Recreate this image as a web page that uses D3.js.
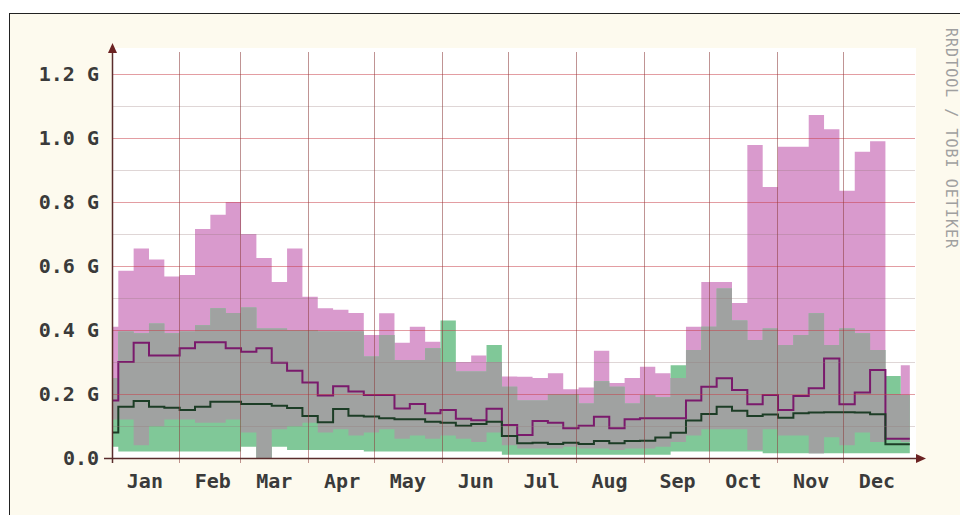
<!DOCTYPE html>
<html>
<head>
<meta charset="utf-8">
<script src="https://d3js.org/d3.v7.min.js"></script>
<style>
  body { margin: 0; background: #fff; }
  text { font-family: "DejaVu Sans Mono", monospace; }
</style>
</head>
<body>
<div id="chart"></div>
<script>
// weekly consolidated values, in G
const firstWeek = new Date(2010, 11, 28, 9);
const lastUpdate = new Date(2011, 11, 31, 12);
const months = ["Jan","Feb","Mar","Apr","May","Jun","Jul","Aug","Sep","Oct","Nov","Dec"];
const yTicks = [0, 0.2, 0.4, 0.6, 0.8, 1.0, 1.2];
const yLabels = ["0.0", "0.2 G", "0.4 G", "0.6 G", "0.8 G", "1.0 G", "1.2 G"];

const inMax = [0.41,0.585,0.655,0.62,0.567,0.572,0.716,0.76,0.80,0.70,0.625,0.55,0.655,0.504,0.468,0.463,0.453,0.384,0.452,0.36,0.41,0.363,0.30,0.30,0.32,0.30,0.255,0.254,0.25,0.265,0.215,0.22,0.335,0.234,0.25,0.285,0.265,0.25,0.41,0.55,0.55,0.484,0.978,0.847,0.973,0.973,1.072,1.027,0.835,0.957,0.99,0.20,0.29];
const inMin = [0.12,0.12,0.04,0.10,0.12,0.12,0.11,0.11,0.12,0.08,0.0,0.09,0.10,0.11,0.08,0.09,0.07,0.08,0.09,0.06,0.07,0.06,0.07,0.06,0.05,0.08,0.04,0.03,0.03,0.03,0.035,0.03,0.03,0.025,0.03,0.03,0.035,0.05,0.07,0.09,0.09,0.09,0.025,0.09,0.07,0.07,0.015,0.065,0.04,0.08,0.05,0.06,0.05];
const outMax = [0.25,0.395,0.39,0.42,0.39,0.395,0.415,0.468,0.453,0.47,0.405,0.405,0.40,0.40,0.395,0.395,0.395,0.317,0.384,0.306,0.306,0.343,0.43,0.27,0.27,0.353,0.223,0.18,0.18,0.20,0.20,0.17,0.24,0.223,0.17,0.197,0.19,0.29,0.3375,0.41,0.53,0.43,0.369,0.405,0.353,0.384,0.452,0.353,0.405,0.39,0.3375,0.256,0.197];
const outMin = [0.035,0.02,0.02,0.02,0.02,0.02,0.02,0.02,0.02,0.035,0.0,0.035,0.025,0.025,0.025,0.025,0.025,0.02,0.02,0.02,0.02,0.02,0.02,0.02,0.02,0.02,0.01,0.01,0.01,0.01,0.01,0.01,0.01,0.01,0.01,0.01,0.01,0.02,0.02,0.02,0.02,0.02,0.02,0.015,0.015,0.015,0.015,0.015,0.015,0.015,0.015,0.015,0.015];
const inAvg = [0.18,0.30,0.36,0.32,0.32,0.343,0.362,0.362,0.343,0.332,0.343,0.298,0.273,0.236,0.195,0.224,0.208,0.197,0.197,0.155,0.169,0.14,0.15,0.123,0.118,0.154,0.103,0.072,0.116,0.11,0.093,0.101,0.129,0.093,0.121,0.124,0.124,0.124,0.18,0.223,0.249,0.2125,0.168,0.197,0.15,0.194,0.218,0.311,0.168,0.205,0.275,0.06,0.06];
const outAvg = [0.08,0.16,0.178,0.16,0.157,0.15,0.16,0.176,0.176,0.169,0.169,0.163,0.156,0.131,0.112,0.153,0.132,0.13,0.124,0.121,0.121,0.113,0.11,0.101,0.106,0.113,0.069,0.046,0.048,0.044,0.048,0.044,0.053,0.046,0.053,0.054,0.064,0.079,0.117,0.1375,0.16,0.148,0.131,0.136,0.126,0.14,0.142,0.143,0.143,0.142,0.137,0.043,0.043];

const width = 960, height = 515;
const plotLeft = 112, plotRight = 912, plotBottom = 458, plotTop = 52;

const svg = d3.select("#chart").append("svg")
    .attr("width", width)
    .attr("height", height);

// outer frame
svg.append("rect").attr("x", 9.5).attr("y", 13.5)
    .attr("width", 960).attr("height", 520)
    .attr("fill", "#fdfaee").attr("stroke", "#222");

svg.append("rect").attr("x", plotLeft).attr("y", 48)
    .attr("width", 916 - plotLeft).attr("height", plotBottom - 48)
    .attr("fill", "#ffffff");

var x = d3.scaleTime()
    .domain([new Date(2011, 0, 1, 12), new Date(2012, 0, 1, 12)])
    .range([plotLeft, plotRight]);
var y = d3.scaleLinear().domain([0, 1.2]).range([plotBottom, plotBottom - 384]);

var weeks = inMax.map(function(v, i) {
  return {
    t: d3.timeDay.offset(firstWeek, 7 * i),
    inMax: v, inMin: inMin[i], outMax: outMax[i], outMin: outMin[i],
    inAvg: inAvg[i], outAvg: outAvg[i]
  };
});
// closing point for the step curves
var last = Object.assign({}, weeks[weeks.length - 1]);
last.t = d3.timeDay.offset(firstWeek, 7 * weeks.length);
weeks.push(last);

svg.append("clipPath").attr("id", "clip")
  .append("rect")
    .attr("x", plotLeft).attr("y", 0)
    .attr("width", x(lastUpdate) - plotLeft)
    .attr("height", plotBottom);

var g = svg.append("g").attr("clip-path", "url(#clip)");

function band(lo, hi) {
  return d3.area()
    .curve(d3.curveStepAfter)
    .x(function(d) { return x(d.t); })
    .y0(function(d) { return y(lo(d)); })
    .y1(function(d) { return y(hi(d)); });
}

g.append("path").datum(weeks)
    .attr("fill", "#d99acd")
    .attr("d", band(d => d.inMin, d => d.inMax));
g.append("path").datum(weeks)
    .attr("fill", "#80c898")
    .attr("d", band(d => d.outMin, d => d.outMax));
g.append("path").datum(weeks)
    .attr("fill", "#a0a2a1")
    .attr("d", band(d => Math.max(d.inMin, d.outMin),
                    d => Math.max(Math.max(d.inMin, d.outMin), Math.min(d.inMax, d.outMax))));

// grid
var minor = d3.range(0.1, 1.25, 0.2);
svg.selectAll(".minor").data(minor).enter().append("line")
    .attr("x1", plotLeft).attr("x2", 915)
    .attr("y1", d => Math.round(y(d)) + 0.5).attr("y2", d => Math.round(y(d)) + 0.5)
    .attr("stroke", "rgba(150,120,120,0.3)");
svg.selectAll(".major").data(yTicks.slice(1)).enter().append("line")
    .attr("x1", plotLeft).attr("x2", 915)
    .attr("y1", d => Math.round(y(d)) + 0.5).attr("y2", d => Math.round(y(d)) + 0.5)
    .attr("stroke", "rgba(200,60,70,0.5)");
var monthStarts = d3.timeMonth.range(new Date(2011, 1, 1), new Date(2011, 11, 2));
svg.selectAll(".vgrid").data(monthStarts).enter().append("line")
    .attr("x1", d => Math.round(x(d)) + 0.5).attr("x2", d => Math.round(x(d)) + 0.5)
    .attr("y1", plotTop).attr("y2", plotBottom + 5)
    .attr("stroke", "rgba(140,60,60,0.55)");

// average lines
function stepLine(acc) {
  return d3.line().curve(d3.curveStepAfter)
    .x(d => x(d.t)).y(d => y(acc(d)));
}
g.append("path").datum(weeks)
    .attr("fill", "none").attr("stroke", "#7a1a6c").attr("stroke-width", 2)
    .attr("d", stepLine(d => d.inAvg));
g.append("path").datum(weeks)
    .attr("fill", "none").attr("stroke", "#1c3d26").attr("stroke-width", 2)
    .attr("d", stepLine(d => d.outAvg));

// axes with arrows
var axisColor = "#5a2c2c";
svg.append("line").attr("x1", 104).attr("x2", 917)
    .attr("y1", plotBottom + 0.5).attr("y2", plotBottom + 0.5)
    .attr("stroke", axisColor).attr("stroke-width", 1.5);
svg.append("line").attr("x1", plotLeft + 0.5).attr("x2", plotLeft + 0.5)
    .attr("y1", plotBottom + 5).attr("y2", 52)
    .attr("stroke", axisColor).attr("stroke-width", 1.5);
svg.append("path").attr("d", "M916,454 L926,458.5 L916,463 Z").attr("fill", "#6b2222");
svg.append("path").attr("d", "M108,53 L112.5,43 L117,53 Z").attr("fill", "#6b2222");

// labels
svg.selectAll(".ylab").data(yTicks).enter().append("text")
    .attr("x", 99).attr("y", d => y(d) + 7)
    .attr("text-anchor", "end")
    .attr("font-size", 20).attr("font-weight", "bold").attr("fill", "#3a3a3a")
    .text((d, i) => yLabels[i]);

svg.selectAll(".mlab").data(months).enter().append("text")
    .attr("x", (d, i) => x(new Date(2011, i, 16, 12)))
    .attr("y", 488)
    .attr("text-anchor", "middle")
    .attr("font-size", 20).attr("font-weight", "bold").attr("fill", "#3a3a3a")
    .text(d => d);

svg.append("text")
    .attr("transform", "translate(946,28) rotate(90)")
    .attr("font-size", 15).attr("fill", "#a0a0a0")
    .attr("textLength", 220).attr("lengthAdjust", "spacing")
    .text("RRDTOOL / TOBI OETIKER");
</script>
</body>
</html>
